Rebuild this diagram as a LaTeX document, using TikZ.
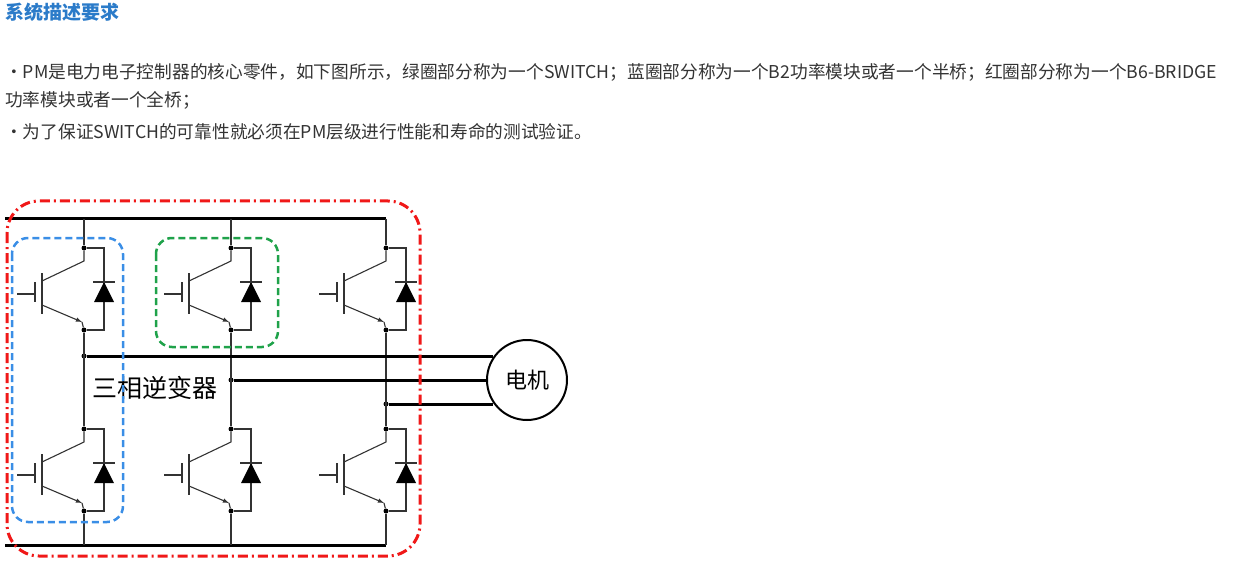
\documentclass[tikz,border=0pt]{standalone}
\usepackage{fontspec}
\setmainfont{Noto Sans CJK SC}
\usetikzlibrary{positioning}
\usetikzlibrary{calc}
\definecolor{titleblue}{HTML}{2B7BC9}
\definecolor{bodygray}{HTML}{333333}
\definecolor{loopblue}{HTML}{3A8EE6}
\definecolor{loopgreen}{HTML}{1FA24A}
\definecolor{loopred}{HTML}{F01818}
\tikzset{
	wire/.style={line width=1.1pt,black!80},
	bus/.style={line width=3pt,black},
	pin/.style={circle,fill=black,inner sep=0pt,minimum size=5pt},
	para/.style={anchor=west,text=bodygray,font=\fontsize{17.7}{20}\selectfont,inner sep=0pt},
}
% one switch: transistor plus diode, collector dot at (#1,#2)
\newcommand{\switchcell}[3]{
	\node[pin] (#3c) at (#1,#2) {};
	\node[pin] (#3e) at (#1,#2+82) {};
	\draw[wire] (#1-42,#2+25) -- (#1-42,#2+66);
	\draw[wire] (#1-49,#2+34) -- (#1-49,#2+54);
	\draw[wire] (#1-67,#2+46) -- (#1-49,#2+46);
	\draw[wire] (#1-42,#2+33) -- (#1,#2+13) -- (#3c);
	\draw[wire,-latex] (#1-42,#2+57) -- (#1-2,#2+74);
	\draw[wire] (#1-2,#2+74) -- (#3e);
	\draw[wire] (#3c) -- (#1+20,#2) -- (#1+20,#2+82) -- (#3e);
	\fill (#1+10,#2+54) -- (#1+30,#2+54) -- (#1+20,#2+34) -- cycle;
	\draw[wire] (#1+9,#2+34) -- (#1+31,#2+34);
}
\begin{document}
\begin{tikzpicture}[x=1pt,y=-1pt]
	\useasboundingbox (0,0) rectangle (1234,580);
	% text
	\node[anchor=west,text=titleblue,font=\fontsize{19}{22}\selectfont\bfseries,inner sep=0pt] (title) at (5,12) {系统描述要求};
	\node[para] (lineA) at (5,72) {·PM是电力电子控制器的核心零件，如下图所示，绿圈部分称为一个SWITCH；蓝圈部分称为一个B2功率模块或者一个半桥；红圈部分称为一个B6-BRIDGE};
	\node[para] (lineB) at (5,100) {功率模块或者一个全桥；};
	\node[para] (lineC) at (5,132) {·为了保证SWITCH的可靠性就必须在PM层级进行性能和寿命的测试验证。};
	% busses
	\coordinate (topL) at (5,219);
	\coordinate (topR) at (386,219);
	\coordinate (botL) at (5,545);
	\coordinate (botR) at (386,545);
	\draw[bus] (topL) -- (topR);
	\draw[bus] (botL) -- (botR);
	% legs
	\foreach \x/\n/\y in {84/a/356, 231/b/380, 386/c/404} {
		\switchcell{\x}{248}{\n u}
		\switchcell{\x}{429}{\n d}
		\node[pin] (\n o) at (\x,\y) {};
		\draw[wire] (\x,219) -- (\n uc);
		\draw[wire] (\n ue) -- (\n dc);
		\draw[wire] (\n de) -- (\x,545);
	}
	% motor
	\node[circle,draw,line width=2pt,minimum size=80pt,inner sep=0pt,font=\fontsize{22}{24}\selectfont] (motor) at (527,380) {电机};
	\draw[bus] (ao) -- ($(motor.center)+(-34,-24)$);
	\draw[bus] (bo) -- (motor.west);
	\draw[bus] (co) -- ($(motor.center)+(-34,24)$);
	\node[font=\fontsize{25}{27}\selectfont] (label) at (155,388) {三相逆变器};
	% groups
	\draw[loopblue,line width=2.5pt,rounded corners=16pt,dash pattern=on 7pt off 4pt] (12,238) rectangle (123,522);
	\draw[loopgreen,line width=2.5pt,rounded corners=16pt,dash pattern=on 7pt off 4pt] (156,238) rectangle (278,347);
	\draw[loopred,line width=3pt,rounded corners=32pt,dash pattern=on 10pt off 4pt on 2pt off 4pt] (7,201) rectangle (420,556);
\end{tikzpicture}
\end{document}
